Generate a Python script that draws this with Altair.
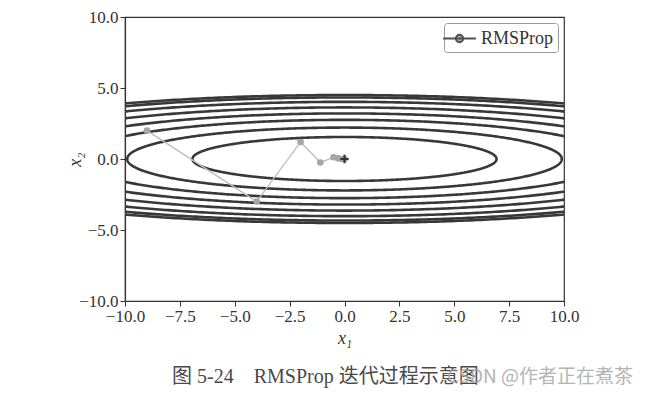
import numpy as np
import pandas as pd
import altair as alt

# contour levels of f(x1, x2) = x1^2/20 + x2^2
levels = [2.4, 4.9, 7.6, 10.3, 13.2, 16.2, 18.8, 20.3]
# RMSProp trajectory
path_x = [-9.0, -4.0, -2.0, -1.1, -0.5, -0.3, -0.15, 0.0]
path_y = [2.0, -3.0, 1.2, -0.25, 0.12, 0.05, 0.0, 0.0]
min_x = [0.0]
min_y = [0.0]
ticks = [-10.0, -7.5, -5.0, -2.5, 0.0, 2.5, 5.0, 7.5, 10.0]
caption = "图 5-24\u2003RMSProp 迭代过程示意图"
watermark = "CSDN @作者正在煮茶"

# contour table
theta = np.linspace(0, 2 * np.pi, 721)
rows = []
for lv in levels:
    a = np.sqrt(20 * lv)
    b = np.sqrt(lv)
    for i, t in enumerate(theta):
        rows.append({"level": lv, "i": i, "x": a * np.cos(t), "y": b * np.sin(t)})
contours = pd.DataFrame(rows)

traj = pd.DataFrame({"x": path_x, "y": path_y, "i": list(range(len(path_x))), "series": "RMSProp"})
mins = pd.DataFrame({"x": min_x, "y": min_y})

serif = "Liberation Serif"
xscale = alt.Scale(domain=[-10, 10], nice=False, zero=False)
yscale = alt.Scale(domain=[-10, 10], nice=False, zero=False)
xaxis = alt.Axis(values=ticks, format=".1f", title="x₁", titleFontStyle="italic", titlePadding=5)
yaxis = alt.Axis(values=ticks, format=".1f", title="x₂", titleFontStyle="italic", titleX=-41, titleY=142)

contour_layer = alt.Chart(contours).mark_line(
    color="#383838", strokeWidth=2.6, clip=True
).encode(
    x=alt.X("x:Q", scale=xscale, axis=xaxis),
    y=alt.Y("y:Q", scale=yscale, axis=yaxis),
    detail="level:N",
    order="i:Q",
)

legend_symbol = "M-1.6,0L1.6,0M-0.36,0A0.36,0.36 0 1,1 0.36,0A0.36,0.36 0 1,1 -0.36,0Z"

traj_line = alt.Chart(traj).mark_line(color="#bdbdbd", strokeWidth=1.3).encode(
    x="x:Q", y="y:Q", order="i:Q"
)
traj_pts = alt.Chart(traj).mark_point(
    filled=True, fill="#a6a6a6", strokeWidth=0, size=44, opacity=1
).encode(
    x="x:Q",
    y="y:Q",
    stroke=alt.Stroke(
        "series:N",
        title=None,
        scale=alt.Scale(range=["#505050"]),
        legend=alt.Legend(
            orient="top-right",
            offset=6,
            symbolType=legend_symbol,
            symbolSize=420,
            symbolStrokeWidth=2,
            symbolFillColor="#505050",
            symbolOpacity=1,
            labelFont=serif,
            labelFontSize=18,
            labelColor="#333333",
            strokeColor="#9a9a9a",
            cornerRadius=3,
            padding=4,
            fillColor="white",
            labelOffset=10,
        ),
    ),
)
min_pt = alt.Chart(mins).mark_point(
    shape="M-1,0L1,0M0,-1L0,1", size=70, strokeWidth=2.2, color="#333333", opacity=1
).encode(x="x:Q", y="y:Q")

cap = alt.Chart(pd.DataFrame({"t": [caption]})).mark_text(
    align="left", baseline="middle", font=f"{serif}, Noto Sans CJK SC", fontSize=20, color="#4a4a4a"
).encode(x=alt.value(47), y=alt.value(360), text="t:N")

wm = alt.Chart(pd.DataFrame({"t": [watermark]})).mark_text(
    align="right", baseline="middle", font="Noto Sans CJK SC", fontSize=19, color="#a8a8a8", opacity=0.85
).encode(x=alt.value(508), y=alt.value(360), text="t:N")

chart = alt.layer(contour_layer, traj_line, traj_pts, min_pt, cap, wm).properties(
    width=439,
    height=284,
    autosize=alt.AutoSizeParams(type="none"),
    padding={"left": 117, "top": 9, "right": 78, "bottom": 90},
).configure_view(
    stroke="#333333", strokeWidth=1.2
).configure_axis(
    grid=False,
    domainColor="#333333",
    domainWidth=1.2,
    tickColor="#333333",
    tickSize=5,
    labelFont=serif,
    labelFontSize=17,
    labelColor="#333333",
    labelOverlap=False,
    labelFlush=False,
    titleFont=serif,
    titleFontSize=18,
    titleFontWeight="normal",
    titleColor="#333333",
)

chart.save("out.html", embed_options={"renderer": "svg", "actions": False})
